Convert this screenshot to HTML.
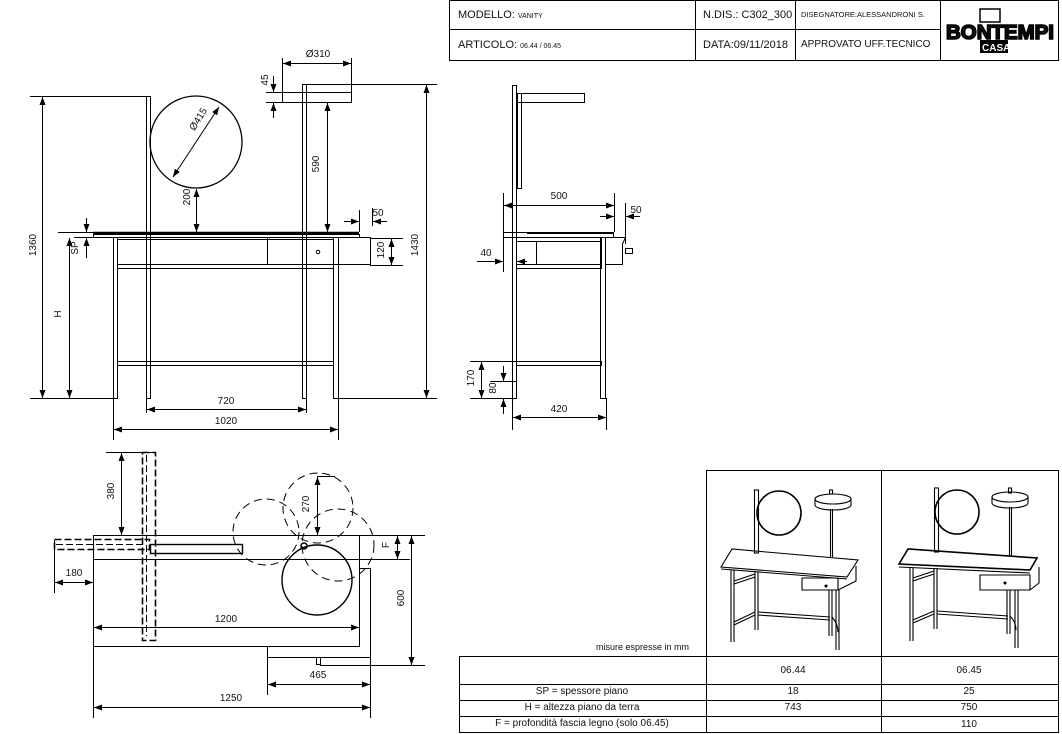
<!DOCTYPE html>
<html><head><meta charset="utf-8"><style>
html,body{margin:0;padding:0;background:#fff}
svg{display:block}
text{font-family:"Liberation Sans",Arial,sans-serif;fill:#111}
</style></head><body>
<svg width="1062" height="734" viewBox="0 0 1062 734" xmlns="http://www.w3.org/2000/svg">
<defs>
<marker id="a" markerWidth="8" markerHeight="6" refX="8" refY="3" orient="auto-start-reverse" markerUnits="userSpaceOnUse"><path d="M0,0 L8,3 L0,6z" fill="#000"/></marker>
</defs>
<g stroke="#000" fill="none" stroke-width="1">
<rect x="449.5" y="0.5" width="609" height="60"/>
<line x1="449" y1="29.5" x2="940" y2="29.5"/>
<line x1="695.5" y1="0" x2="695.5" y2="60"/>
<line x1="795.5" y1="0" x2="795.5" y2="60"/>
<line x1="940.5" y1="0" x2="940.5" y2="60"/>

<rect x="146.5" y="96.5" width="4" height="302"/>
<circle cx="196" cy="142" r="46" stroke-width="1.3"/>
<rect x="302.5" y="84.5" width="4" height="314"/>
<rect x="282.5" y="92.5" width="69" height="10"/>
<line x1="302" y1="84.5" x2="437" y2="84.5"/>
<line x1="93" y1="233" x2="359" y2="233" stroke-width="2.5"/>
<rect x="93.5" y="234.5" width="266" height="3"/>
<rect x="113.5" y="237.5" width="4" height="161"/>
<rect x="333.5" y="237.5" width="5" height="161"/>
<rect x="117.5" y="237.5" width="216" height="2"/>
<rect x="117.5" y="264.5" width="216" height="4"/>
<rect x="267.5" y="237.5" width="103" height="27"/>
<circle cx="318" cy="252" r="1.8"/>
<rect x="117.5" y="361.5" width="216" height="4"/>
<line x1="30" y1="96.5" x2="147" y2="96.5"/>
<line x1="30" y1="398.5" x2="113" y2="398.5"/>
<line x1="339" y1="398.5" x2="437" y2="398.5"/>
<line x1="58" y1="232.5" x2="93" y2="232.5"/>
<line x1="74" y1="237.5" x2="93" y2="237.5"/>
<line x1="370" y1="238.5" x2="403" y2="238.5"/>
<line x1="370" y1="265.5" x2="403" y2="265.5"/>
<line x1="42.5" y1="97" x2="42.5" y2="398" marker-start="url(#a)" marker-end="url(#a)"/>
<line x1="69.5" y1="238" x2="69.5" y2="398" marker-start="url(#a)" marker-end="url(#a)"/>
<line x1="86.5" y1="218" x2="86.5" y2="232" marker-end="url(#a)"/>
<line x1="86.5" y1="258" x2="86.5" y2="238" marker-end="url(#a)"/>
<line x1="426.5" y1="85" x2="426.5" y2="398" marker-start="url(#a)" marker-end="url(#a)"/>
<line x1="391.5" y1="239" x2="391.5" y2="265" marker-start="url(#a)" marker-end="url(#a)"/>
<line x1="327.5" y1="103" x2="327.5" y2="232" marker-start="url(#a)" marker-end="url(#a)"/>
<line x1="196.5" y1="189" x2="196.5" y2="232" marker-start="url(#a)" marker-end="url(#a)"/>
<line x1="173" y1="177" x2="219" y2="107" marker-start="url(#a)" marker-end="url(#a)"/>
<line x1="146.5" y1="398" x2="146.5" y2="413"/>
<line x1="306.5" y1="398" x2="306.5" y2="413"/>
<line x1="147" y1="409.5" x2="306" y2="409.5" marker-start="url(#a)" marker-end="url(#a)"/>
<line x1="113.5" y1="398" x2="113.5" y2="440"/>
<line x1="338.5" y1="398" x2="338.5" y2="440"/>
<line x1="114" y1="429.5" x2="338" y2="429.5" marker-start="url(#a)" marker-end="url(#a)"/>
<line x1="282.5" y1="58" x2="282.5" y2="102"/>
<line x1="351.5" y1="58" x2="351.5" y2="92"/>
<line x1="283" y1="63.5" x2="351" y2="63.5" marker-start="url(#a)" marker-end="url(#a)"/>
<line x1="266" y1="92.5" x2="282" y2="92.5"/>
<line x1="266" y1="102.5" x2="282" y2="102.5"/>
<line x1="273.5" y1="76" x2="273.5" y2="92" marker-end="url(#a)"/>
<line x1="273.5" y1="118" x2="273.5" y2="103" marker-end="url(#a)"/>
<line x1="359.5" y1="210" x2="359.5" y2="232"/>
<line x1="372.5" y1="208" x2="372.5" y2="226"/>
<line x1="344" y1="221.5" x2="359" y2="221.5" marker-end="url(#a)"/>
<line x1="387" y1="221.5" x2="373" y2="221.5" marker-end="url(#a)"/>

<rect x="512.5" y="85.5" width="4" height="313"/>
<rect x="517.5" y="93.5" width="4" height="95"/>
<rect x="517.5" y="93.5" width="67" height="9"/>
<rect x="503.5" y="232.5" width="110" height="5"/>
<line x1="527" y1="233" x2="613" y2="233" stroke-width="2"/>
<rect x="516.5" y="237.5" width="85" height="4"/>
<rect x="516.5" y="264.5" width="85" height="4"/>
<rect x="536.5" y="241.5" width="65" height="23"/>
<rect x="600.5" y="237.5" width="5" height="161"/>
<path d="M605.5 237.5 H625.5 L622.5 244 V264.5 H605.5"/>
<rect x="625.5" y="248.5" width="7" height="5"/>
<rect x="516.5" y="361.5" width="85" height="4"/>
<line x1="503.5" y1="193" x2="503.5" y2="272"/>
<line x1="614.5" y1="193" x2="614.5" y2="232"/>
<line x1="504" y1="205.5" x2="614" y2="205.5" marker-start="url(#a)" marker-end="url(#a)"/>
<line x1="625.5" y1="203" x2="625.5" y2="244"/>
<line x1="600" y1="216.5" x2="614" y2="216.5" marker-end="url(#a)"/>
<line x1="640" y1="216.5" x2="626" y2="216.5" marker-end="url(#a)"/>
<line x1="477" y1="261.5" x2="503" y2="261.5" marker-end="url(#a)"/>
<line x1="527" y1="261.5" x2="517" y2="261.5" marker-end="url(#a)"/>
<line x1="470" y1="361.5" x2="516" y2="361.5"/>
<line x1="490" y1="381.5" x2="516" y2="381.5"/>
<line x1="470" y1="398.5" x2="516" y2="398.5"/>
<line x1="481.5" y1="362" x2="481.5" y2="398" marker-start="url(#a)" marker-end="url(#a)"/>
<line x1="503.5" y1="366" x2="503.5" y2="381" marker-end="url(#a)"/>
<line x1="503.5" y1="414" x2="503.5" y2="399" marker-end="url(#a)"/>
<line x1="512.5" y1="398" x2="512.5" y2="430"/>
<line x1="606.5" y1="398" x2="606.5" y2="430"/>
<line x1="513" y1="417.5" x2="606" y2="417.5" marker-start="url(#a)" marker-end="url(#a)"/>

<line x1="93" y1="535.5" x2="425" y2="535.5"/>
<rect x="93.5" y="535.5" width="266" height="111"/>
<line x1="93" y1="559.5" x2="410" y2="559.5"/>
<rect x="150.5" y="544.5" width="92" height="9" stroke-width="1.4"/>
<g stroke-dasharray="7,3" stroke-width="1.6">
<rect x="142.5" y="452.5" width="13" height="188"/>
<rect x="54.5" y="539.5" width="95" height="10"/>
<line x1="56" y1="544.5" x2="145" y2="544.5" stroke-width="1"/>
<line x1="146.5" y1="455" x2="146.5" y2="636" stroke-width="1"/>
</g>
<g stroke-dasharray="8,5">
<circle cx="266" cy="532" r="33"/>
<circle cx="318" cy="508" r="35"/>
<circle cx="338" cy="545" r="36"/>
</g>
<circle cx="317" cy="580" r="35" stroke-width="1.4"/>
<circle cx="304" cy="546" r="3" stroke-width="1.5"/>
<path d="M359.5 568.5 H370.5 V718"/>
<path d="M267.5 646 V695"/>
<line x1="267" y1="657.5" x2="370" y2="657.5"/>
<rect x="316.5" y="657.5" width="4" height="7"/>
<line x1="320" y1="665.5" x2="425" y2="665.5"/>
<line x1="106" y1="452.5" x2="155" y2="452.5"/>
<line x1="121.5" y1="453" x2="121.5" y2="535" marker-start="url(#a)" marker-end="url(#a)"/>
<line x1="317" y1="476.5" x2="335" y2="476.5"/>
<line x1="317.5" y1="477" x2="317.5" y2="535" marker-start="url(#a)" marker-end="url(#a)"/>
<line x1="397.5" y1="536" x2="397.5" y2="559" marker-start="url(#a)" marker-end="url(#a)"/>
<line x1="411.5" y1="536" x2="411.5" y2="665" marker-start="url(#a)" marker-end="url(#a)"/>
<line x1="54.5" y1="540" x2="54.5" y2="593"/>
<line x1="55" y1="582.5" x2="93" y2="582.5" marker-start="url(#a)" marker-end="url(#a)"/>
<line x1="94" y1="627.5" x2="359" y2="627.5" marker-start="url(#a)" marker-end="url(#a)"/>
<line x1="268" y1="684.5" x2="370" y2="684.5" marker-start="url(#a)" marker-end="url(#a)"/>
<line x1="93.5" y1="646" x2="93.5" y2="718"/>
<line x1="94" y1="707.5" x2="370" y2="707.5" marker-start="url(#a)" marker-end="url(#a)"/>

<rect x="706.5" y="470.5" width="352" height="186"/>
<line x1="881.5" y1="470" x2="881.5" y2="733"/>
<rect x="459.5" y="656.5" width="599" height="76"/>
<line x1="459" y1="684.5" x2="1058" y2="684.5"/>
<line x1="459" y1="700.5" x2="1058" y2="700.5"/>
<line x1="459" y1="716.5" x2="1058" y2="716.5"/>
<line x1="706.5" y1="656" x2="706.5" y2="733"/>

<g stroke-width="1.1">
<rect x="754.5" y="490" width="4" height="63"/>
<circle cx="779" cy="513" r="22" stroke-width="1.6"/>
<ellipse cx="833" cy="499" rx="18" ry="5"/>
<path d="M815 499 V505 A18 5 0 0 0 851 505 V499"/>
<rect x="829.5" y="490" width="3" height="4"/>
<line x1="830.5" y1="509" x2="830.5" y2="557"/>
<line x1="832.5" y1="509" x2="832.5" y2="557"/>
<path d="M721 567 L732 549 L858 560 L847 577 Z"/>
<line x1="721" y1="569" x2="847" y2="579"/>
<path d="M802 578 H838 V590 H802 Z M838 590 L856 581 V566"/>
<circle cx="826" cy="586" r="1" fill="#000"/>
<line x1="731" y1="570" x2="731" y2="642"/><line x1="734" y1="570" x2="734" y2="642"/>
<line x1="755" y1="572" x2="755" y2="630"/><line x1="758" y1="572" x2="758" y2="630"/>
<line x1="829" y1="590" x2="829" y2="636"/><line x1="832" y1="590" x2="832" y2="636"/>
<line x1="836" y1="590" x2="836" y2="650"/><line x1="839" y1="590" x2="839" y2="650"/>
<line x1="734" y1="581" x2="755" y2="574"/><line x1="734" y1="584" x2="755" y2="577"/>
<line x1="734" y1="622" x2="755" y2="612"/><line x1="734" y1="625" x2="755" y2="615"/>
<line x1="758" y1="612" x2="830" y2="617"/><line x1="758" y1="615" x2="830" y2="620"/>
<path d="M832 617 Q838 624 838 632"/>
</g>
<g stroke-width="1.1">
<rect x="934.5" y="488" width="4" height="64"/>
<circle cx="957" cy="512" r="22" stroke-width="1.6"/>
<ellipse cx="1010" cy="497" rx="18" ry="5"/>
<path d="M992 497 V503 A18 5 0 0 0 1028 503 V497"/>
<rect x="1008.5" y="488" width="3" height="5"/>
<line x1="1009.5" y1="507" x2="1009.5" y2="556"/>
<line x1="1011.5" y1="507" x2="1011.5" y2="556"/>
<path d="M899 564 L908 549 L1037 558 L1030 570 Z" stroke-width="1.6"/>
<line x1="899" y1="567" x2="1030" y2="573"/>
<path d="M980 575 H1030 V590 H980 Z M1030 590 L1039 583 V567"/>
<circle cx="1005" cy="583" r="1" fill="#000"/>
<line x1="910" y1="568" x2="910" y2="641"/><line x1="913" y1="568" x2="913" y2="641"/>
<line x1="934" y1="568" x2="934" y2="629"/><line x1="937" y1="568" x2="937" y2="629"/>
<line x1="1007" y1="590" x2="1007" y2="634"/><line x1="1010" y1="590" x2="1010" y2="634"/>
<line x1="1015" y1="590" x2="1015" y2="648"/><line x1="1018" y1="590" x2="1018" y2="648"/>
<line x1="913" y1="578" x2="934" y2="571"/><line x1="913" y1="581" x2="934" y2="574"/>
<line x1="913" y1="620" x2="934" y2="611"/><line x1="913" y1="623" x2="934" y2="614"/>
<line x1="937" y1="611" x2="1008" y2="616"/><line x1="937" y1="614" x2="1008" y2="619"/>
<path d="M1010 616 Q1016 622 1016 630"/>
</g>
</g>

<text x="458" y="18" font-size="11">MODELLO: <tspan font-size="7">VANITY</tspan></text>
<text x="458" y="48" font-size="11">ARTICOLO: <tspan font-size="7">06.44 / 06.45</tspan></text>
<text x="703" y="18" font-size="11">N.DIS.: C302_300</text>
<text x="703" y="48" font-size="11">DATA:09/11/2018</text>
<text x="801" y="17" font-size="7.5">DISEGNATORE:ALESSANDRONI S.</text>
<text x="801" y="47" font-size="10">APPROVATO UFF.TECNICO</text>
<rect x="980" y="9" width="20" height="13" fill="none" stroke="#000" stroke-width="1.5"/>
<text x="946" y="39" font-size="20" font-weight="bold" textLength="108" lengthAdjust="spacingAndGlyphs" stroke="#000" stroke-width="1.6">BONTEMPI</text>
<rect x="980" y="40" width="28" height="13" fill="#000"/>
<text x="982" y="51" font-size="10" font-weight="bold" style="fill:#fff">CASA</text>

<g font-size="10">
<text x="216" y="128" transform="rotate(-58 202 138)" text-anchor="middle">Ø415</text>
<text x="204" y="211" transform="rotate(-90 190 211)" text-anchor="middle">200</text>
<text x="322" y="167" transform="rotate(-90 319 167)" text-anchor="middle">590</text>
<text x="268" y="80" transform="rotate(-90 268 80)" text-anchor="middle">45</text>
<text x="318" y="57" text-anchor="middle">Ø310</text>
<text x="378" y="216" text-anchor="middle">50</text>
<text x="38" y="247" transform="rotate(-90 36 247)" text-anchor="middle">1360</text>
<text x="63" y="316" transform="rotate(-90 61 316)" text-anchor="middle">H</text>
<text x="80" y="250" transform="rotate(-90 78 250)" text-anchor="middle">SP</text>
<text x="386" y="252" transform="rotate(-90 384 252)" text-anchor="middle">120</text>
<text x="420" y="247" transform="rotate(-90 418 247)" text-anchor="middle">1430</text>
<text x="226" y="404" text-anchor="middle">720</text>
<text x="226" y="424" text-anchor="middle">1020</text>
<text x="559" y="199" text-anchor="middle">500</text>
<text x="636" y="213" text-anchor="middle">50</text>
<text x="486" y="256" text-anchor="middle">40</text>
<text x="476" y="380" transform="rotate(-90 474 380)" text-anchor="middle">170</text>
<text x="498" y="390" transform="rotate(-90 496 390)" text-anchor="middle">80</text>
<text x="559" y="412" text-anchor="middle">420</text>
<text x="116" y="493" transform="rotate(-90 114 493)" text-anchor="middle">380</text>
<text x="311" y="506" transform="rotate(-90 309 506)" text-anchor="middle">270</text>
<text x="391" y="547" transform="rotate(-90 389 547)" text-anchor="middle">F</text>
<text x="406" y="600" transform="rotate(-90 404 600)" text-anchor="middle">600</text>
<text x="74" y="576" text-anchor="middle">180</text>
<text x="226" y="622" text-anchor="middle">1200</text>
<text x="318" y="678" text-anchor="middle">465</text>
<text x="231" y="701" text-anchor="middle">1250</text>
</g>
<g font-size="10">
<text x="689" y="650" text-anchor="end" font-size="9">misure espresse in mm</text>
<text x="582" y="694" text-anchor="middle">SP = spessore piano</text>
<text x="582" y="710" text-anchor="middle">H = altezza piano da terra</text>
<text x="582" y="726" text-anchor="middle">F = profondità fascia legno (solo 06.45)</text>
<text x="793" y="673" text-anchor="middle">06.44</text>
<text x="969" y="673" text-anchor="middle">06.45</text>
<text x="793" y="694" text-anchor="middle">18</text>
<text x="969" y="694" text-anchor="middle">25</text>
<text x="793" y="710" text-anchor="middle">743</text>
<text x="969" y="710" text-anchor="middle">750</text>
<text x="969" y="727" text-anchor="middle">110</text>
</g>
</svg>
</body></html>
